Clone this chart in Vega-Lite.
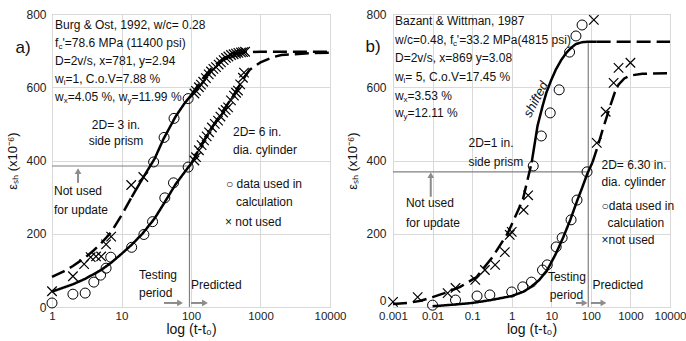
{
  "$schema": "https://vega.github.io/schema/vega-lite/v6.json",
  "padding": {"left": 6, "top": 7, "right": 14, "bottom": 0},
  "background": "white",
  "spacing": 63,
  "bounds": "flush",
  "config": {
    "font": "Liberation Sans",
    "view": {"stroke": "#bfbfbf", "strokeWidth": 1},
    "axis": {"domain": false, "ticks": false, "gridColor": "#d9d9d9", "gridWidth": 1, "labelFont": "Liberation Sans", "labelFontSize": 12, "labelColor": "#222222", "titleFont": "Liberation Sans", "titleFontWeight": "normal", "titleColor": "#111111", "labelOverlap": false},
    "axisY": {"labelPadding": 6, "titlePadding": 6, "titleFontSize": 13},
    "axisX": {"labelPadding": 3, "titlePadding": 1, "titleFontSize": 14, "labelFontSize": 11.5, "labelFlush": false},
    "text": {"font": "Liberation Sans", "fontSize": 12, "color": "#111111", "baseline": "middle"}
  },
  "hconcat": [
    {
      "width": 278,
      "height": 293,
      "encoding": {
        "x": {"field": "x", "type": "quantitative", "scale": {"type": "log", "domain": [1, 10000]}, "axis": {"values": [1, 10, 100, 1000, 10000], "format": "~g", "title": "log (t-t₀)", "grid": true}},
        "y": {"field": "y", "type": "quantitative", "scale": {"domain": [0, 800], "nice": false}, "axis": {"values": [0, 200, 400, 600, 800], "title": "εₛₕ (x10⁻⁶)", "grid": true}}
      },
      "layer": [
        {
          "data": {"values": [
            {"x": 1, "x2": 95, "y": 385, "y2": 385},
            {"x": 95, "x2": 95, "y": 0, "y2": 575}
          ]},
          "mark": {"type": "rule", "color": "#808080", "strokeWidth": 1.2},
          "encoding": {"x2": {"field": "x2"}, "y2": {"field": "y2"}}
        },
        {
          "data": {"values": [
            {"x": 40.9, "x2": 69.5, "y": 11, "y2": 11},
            {"x": 100, "x2": 159, "y": 11, "y2": 11},
            {"x": 2.37, "x2": 2.37, "y": 339, "y2": 371}
          ]},
          "mark": {"type": "rule", "color": "#8c8c8c", "strokeWidth": 2},
          "encoding": {"x2": {"field": "x2"}, "y2": {"field": "y2"}}
        },
        {
          "data": {"values": [
            {"x": 69.5, "y": 11, "dir": "right"},
            {"x": 159, "y": 11, "dir": "right"},
            {"x": 2.37, "y": 371, "dir": "up"}
          ]},
          "mark": {"type": "point", "filled": true, "color": "#8c8c8c", "size": 45, "opacity": 1},
          "encoding": {"shape": {"field": "dir", "type": "nominal", "scale": {"domain": ["right", "up"], "range": ["triangle-right", "triangle-up"]}, "legend": null}}
        },
        {
          "data": {"values": [
            {"seg": "p1", "style": "pred", "x": 1, "y": 82},
            {"seg": "p1", "style": "pred", "x": 1.5, "y": 98},
            {"seg": "p1", "style": "pred", "x": 2, "y": 112},
            {"seg": "p1", "style": "pred", "x": 3, "y": 135},
            {"seg": "p1", "style": "pred", "x": 4, "y": 155},
            {"seg": "p1", "style": "pred", "x": 5, "y": 172},
            {"seg": "p1", "style": "pred", "x": 7, "y": 203},
            {"seg": "p1", "style": "pred", "x": 10, "y": 250},
            {"seg": "p1", "style": "pred", "x": 14, "y": 300},
            {"seg": "p2", "style": "fit", "x": 14, "y": 300},
            {"seg": "p2", "style": "fit", "x": 20, "y": 350},
            {"seg": "p2", "style": "fit", "x": 30, "y": 405},
            {"seg": "p2", "style": "fit", "x": 40, "y": 458},
            {"seg": "p2", "style": "fit", "x": 60, "y": 520},
            {"seg": "p2", "style": "fit", "x": 80, "y": 555},
            {"seg": "p2", "style": "fit", "x": 100, "y": 578},
            {"seg": "p3", "style": "pred", "x": 100, "y": 578},
            {"seg": "p3", "style": "pred", "x": 150, "y": 625},
            {"seg": "p3", "style": "pred", "x": 200, "y": 653},
            {"seg": "p3", "style": "pred", "x": 300, "y": 680},
            {"seg": "p3", "style": "pred", "x": 400, "y": 690},
            {"seg": "p3", "style": "pred", "x": 600, "y": 696},
            {"seg": "p3", "style": "pred", "x": 1000, "y": 697},
            {"seg": "p3", "style": "pred", "x": 10000, "y": 697},
            {"seg": "c1", "style": "fit", "x": 1, "y": 42},
            {"seg": "c1", "style": "fit", "x": 2, "y": 62},
            {"seg": "c1", "style": "fit", "x": 3, "y": 77},
            {"seg": "c1", "style": "fit", "x": 5, "y": 100},
            {"seg": "c1", "style": "fit", "x": 7, "y": 120},
            {"seg": "c1", "style": "fit", "x": 10, "y": 145},
            {"seg": "c1", "style": "fit", "x": 14, "y": 170},
            {"seg": "c1", "style": "fit", "x": 20, "y": 200},
            {"seg": "c1", "style": "fit", "x": 30, "y": 242},
            {"seg": "c1", "style": "fit", "x": 40, "y": 280},
            {"seg": "c1", "style": "fit", "x": 60, "y": 335},
            {"seg": "c1", "style": "fit", "x": 90, "y": 380},
            {"seg": "c1", "style": "fit", "x": 100, "y": 390},
            {"seg": "c2", "style": "pred", "x": 100, "y": 390},
            {"seg": "c2", "style": "pred", "x": 150, "y": 450},
            {"seg": "c2", "style": "pred", "x": 200, "y": 490},
            {"seg": "c2", "style": "pred", "x": 250, "y": 518},
            {"seg": "c2", "style": "pred", "x": 300, "y": 540},
            {"seg": "c2", "style": "pred", "x": 400, "y": 575},
            {"seg": "c2", "style": "pred", "x": 500, "y": 605},
            {"seg": "c2", "style": "pred", "x": 600, "y": 630},
            {"seg": "c2", "style": "pred", "x": 700, "y": 648},
            {"seg": "c2", "style": "pred", "x": 1000, "y": 668},
            {"seg": "c2", "style": "pred", "x": 1500, "y": 682},
            {"seg": "c2", "style": "pred", "x": 2000, "y": 688},
            {"seg": "c2", "style": "pred", "x": 5000, "y": 693},
            {"seg": "c2", "style": "pred", "x": 10000, "y": 694}
          ]},
          "mark": {"type": "line", "color": "black", "strokeWidth": 2.5},
          "encoding": {
            "detail": {"field": "seg", "type": "nominal"},
            "strokeDash": {"field": "style", "type": "nominal", "scale": {"domain": ["fit", "pred"], "range": [[1, 0], [14, 6]]}, "legend": null}
          }
        },
        {
          "data": {"values": [
            {"x": 1, "y": 11}, {"x": 2, "y": 35}, {"x": 3, "y": 38}, {"x": 4, "y": 68}, {"x": 5, "y": 87}, {"x": 6, "y": 106}, {"x": 7, "y": 136},
            {"x": 14, "y": 163}, {"x": 21, "y": 198}, {"x": 28, "y": 233}, {"x": 42, "y": 298}, {"x": 56, "y": 339}, {"x": 91, "y": 382},
            {"x": 29, "y": 396}, {"x": 41, "y": 463}, {"x": 57, "y": 515}, {"x": 91, "y": 569}
          ]},
          "mark": {"type": "point", "shape": "circle", "filled": false, "size": 100, "stroke": "black", "strokeWidth": 1, "opacity": 1}
        },
        {
          "data": {"values": [
            {"x": 1, "y": 43}, {"x": 2, "y": 84}, {"x": 2.9, "y": 117}, {"x": 3.6, "y": 136}, {"x": 4.3, "y": 138}, {"x": 5.1, "y": 138}, {"x": 6, "y": 171}, {"x": 7.1, "y": 192}, {"x": 13.8, "y": 333}, {"x": 20.6, "y": 355},
            {"x": 112, "y": 583}, {"x": 118, "y": 590}, {"x": 130, "y": 600}, {"x": 139, "y": 607}, {"x": 150, "y": 615}, {"x": 164, "y": 625}, {"x": 180, "y": 635}, {"x": 194, "y": 643}, {"x": 210, "y": 650}, {"x": 229, "y": 655}, {"x": 250, "y": 662}, {"x": 270, "y": 668}, {"x": 295, "y": 674}, {"x": 319, "y": 680}, {"x": 345, "y": 684}, {"x": 376, "y": 688}, {"x": 410, "y": 690}, {"x": 444, "y": 692}, {"x": 480, "y": 694}, {"x": 524, "y": 695}, {"x": 560, "y": 696}, {"x": 600, "y": 697},
            {"x": 112, "y": 400}, {"x": 118, "y": 409}, {"x": 130, "y": 428}, {"x": 142, "y": 442}, {"x": 154, "y": 455}, {"x": 168, "y": 466}, {"x": 182, "y": 477}, {"x": 200, "y": 490}, {"x": 220, "y": 500}, {"x": 245, "y": 509}, {"x": 265, "y": 520}, {"x": 289, "y": 531}, {"x": 315, "y": 538}, {"x": 342, "y": 545}, {"x": 376, "y": 564}, {"x": 415, "y": 577}, {"x": 445, "y": 585}, {"x": 474, "y": 591}, {"x": 510, "y": 608}, {"x": 559, "y": 626}, {"x": 579, "y": 640}
          ]},
          "mark": {"type": "point", "shape": "M-1,-1L1,1M-1,1L1,-1", "filled": false, "size": 90, "stroke": "black", "strokeWidth": 1.2, "opacity": 1}
        },
        {
          "data": {"values": [
            {"x": 1.105, "y": 770, "t": "Burg & Ost, 1992, w/c= 0.28"},
            {"x": 1.105, "y": 721, "t": "f"},
            {"x": 1.416, "y": 721, "t": "'=78.6 MPa (11400 psi)"},
            {"x": 1.105, "y": 672, "t": "D=2v/s, x=781, y=2.94"},
            {"x": 1.105, "y": 623, "t": "w"},
            {"x": 1.564, "y": 623, "t": "=1, C.o.V=7.88 %"},
            {"x": 1.105, "y": 574, "t": "w"},
            {"x": 1.682, "y": 574, "t": "=4.05 %, w"},
            {"x": 13.88, "y": 574, "t": "=11.99 %"},
            {"x": 402, "y": 479, "t": "2D= 6 in."},
            {"x": 402, "y": 430, "t": "dia. cylinder"},
            {"x": 319, "y": 335, "t": "○ data used in"},
            {"x": 444, "y": 286, "t": "calculation"},
            {"x": 308, "y": 231, "t": "× not used"},
            {"x": 1.068, "y": 316, "t": "Not used"},
            {"x": 1.068, "y": 264, "t": "for update"},
            {"x": 17.86, "y": 87, "t": "Testing"},
            {"x": 17.86, "y": 38, "t": "period"},
            {"x": 100, "y": 60, "t": "Predicted"}
          ]},
          "mark": {"type": "text", "align": "left"},
          "encoding": {"text": {"field": "t"}}
        },
        {
          "data": {"values": [
            {"x": 1.240, "y": 721, "t": "c"},
            {"x": 1.474, "y": 623, "t": "i"},
            {"x": 1.474, "y": 574, "t": "x"},
            {"x": 12.16, "y": 574, "t": "y"}
          ]},
          "mark": {"type": "text", "align": "left", "fontSize": 8, "dy": 4},
          "encoding": {"text": {"field": "t"}}
        },
        {
          "data": {"values": [
            {"x": 8.34, "y": 498, "t": "2D= 3 in."},
            {"x": 8.34, "y": 452, "t": "side prism"}
          ]},
          "mark": {"type": "text", "align": "center"},
          "encoding": {"text": {"field": "t"}}
        },
        {
          "data": {"values": [{"x": 0.3826, "y": 707, "t": "a)"}]},
          "mark": {"type": "text", "align": "center", "fontSize": 17},
          "encoding": {"text": {"field": "t"}}
        }
      ]
    },
    {
      "width": 277,
      "height": 293,
      "encoding": {
        "x": {"field": "x", "type": "quantitative", "scale": {"type": "log", "domain": [0.001, 10000]}, "axis": {"values": [0.001, 0.01, 0.1, 1, 10, 100, 1000, 10000], "format": "~g", "title": "log (t-t₀)", "grid": true}},
        "y": {"field": "y", "type": "quantitative", "scale": {"domain": [0, 800], "nice": false}, "axis": {"values": [0, 200, 400, 600, 800], "title": "εₛₕ (x10⁻⁶)", "grid": true, "labelPadding": 7, "labelBaseline": {"condition": {"test": "datum.value === 0", "value": "bottom"}, "value": "middle"}}}
      },
      "layer": [
        {
          "data": {"values": [
            {"x": 0.001, "x2": 86, "y": 369, "y2": 369},
            {"x": 86, "x2": 86, "y": 0, "y2": 724}
          ]},
          "mark": {"type": "rule", "color": "#808080", "strokeWidth": 1.2},
          "encoding": {"x2": {"field": "x2"}, "y2": {"field": "y2"}}
        },
        {
          "data": {"values": [
            {"x": 42, "x2": 69.5, "y": 11, "y2": 11},
            {"x": 100, "x2": 208, "y": 11, "y2": 11},
            {"x": 0.009, "x2": 0.009, "y": 301, "y2": 360}
          ]},
          "mark": {"type": "rule", "color": "#8c8c8c", "strokeWidth": 2},
          "encoding": {"x2": {"field": "x2"}, "y2": {"field": "y2"}}
        },
        {
          "data": {"values": [
            {"x": 69.5, "y": 11, "dir": "right"},
            {"x": 208, "y": 11, "dir": "right"},
            {"x": 0.009, "y": 360, "dir": "up"}
          ]},
          "mark": {"type": "point", "filled": true, "color": "#8c8c8c", "size": 45, "opacity": 1},
          "encoding": {"shape": {"field": "dir", "type": "nominal", "scale": {"domain": ["right", "up"], "range": ["triangle-right", "triangle-up"]}, "legend": null}}
        },
        {
          "data": {"values": [
            {"seg": "p1", "style": "pred", "x": 0.001, "y": 8},
            {"seg": "p1", "style": "pred", "x": 0.0024, "y": 11},
            {"seg": "p1", "style": "pred", "x": 0.005, "y": 17},
            {"seg": "p1", "style": "pred", "x": 0.01, "y": 27},
            {"seg": "p1", "style": "pred", "x": 0.02, "y": 38},
            {"seg": "p1", "style": "pred", "x": 0.05, "y": 55},
            {"seg": "p1", "style": "pred", "x": 0.13, "y": 82},
            {"seg": "p1", "style": "pred", "x": 0.33, "y": 137},
            {"seg": "p1", "style": "pred", "x": 0.8, "y": 202},
            {"seg": "p1", "style": "pred", "x": 1.9, "y": 292},
            {"seg": "p1", "style": "pred", "x": 3.2, "y": 395},
            {"seg": "p2", "style": "fit", "x": 3.2, "y": 395},
            {"seg": "p2", "style": "fit", "x": 4.5, "y": 495},
            {"seg": "p2", "style": "fit", "x": 6, "y": 548},
            {"seg": "p2", "style": "fit", "x": 7.5, "y": 585},
            {"seg": "p2", "style": "fit", "x": 10, "y": 620},
            {"seg": "p2", "style": "fit", "x": 13, "y": 648},
            {"seg": "p2", "style": "fit", "x": 18, "y": 675},
            {"seg": "p2", "style": "fit", "x": 24, "y": 694},
            {"seg": "p2", "style": "fit", "x": 32, "y": 708},
            {"seg": "p2", "style": "fit", "x": 42, "y": 718},
            {"seg": "p2", "style": "fit", "x": 60, "y": 723},
            {"seg": "p2", "style": "fit", "x": 80, "y": 724},
            {"seg": "p2", "style": "fit", "x": 140, "y": 724},
            {"seg": "p3", "style": "pred", "x": 140, "y": 724},
            {"seg": "p3", "style": "pred", "x": 10000, "y": 724},
            {"seg": "c1", "style": "fit", "x": 0.01, "y": 2},
            {"seg": "c1", "style": "fit", "x": 0.03, "y": 6},
            {"seg": "c1", "style": "fit", "x": 0.1, "y": 11},
            {"seg": "c1", "style": "fit", "x": 0.3, "y": 19},
            {"seg": "c1", "style": "fit", "x": 1, "y": 30},
            {"seg": "c1", "style": "fit", "x": 2, "y": 42},
            {"seg": "c1", "style": "fit", "x": 3, "y": 54},
            {"seg": "c1", "style": "fit", "x": 5, "y": 74},
            {"seg": "c1", "style": "fit", "x": 8, "y": 102},
            {"seg": "c1", "style": "fit", "x": 13, "y": 145},
            {"seg": "c1", "style": "fit", "x": 20, "y": 190},
            {"seg": "c1", "style": "fit", "x": 30, "y": 237},
            {"seg": "c1", "style": "fit", "x": 45, "y": 290},
            {"seg": "c1", "style": "fit", "x": 60, "y": 325},
            {"seg": "c1", "style": "fit", "x": 80, "y": 362},
            {"seg": "c1", "style": "fit", "x": 110, "y": 395},
            {"seg": "c2", "style": "pred", "x": 110, "y": 395},
            {"seg": "c2", "style": "pred", "x": 150, "y": 440},
            {"seg": "c2", "style": "pred", "x": 200, "y": 485},
            {"seg": "c2", "style": "pred", "x": 300, "y": 545},
            {"seg": "c2", "style": "pred", "x": 400, "y": 585},
            {"seg": "c2", "style": "pred", "x": 500, "y": 607},
            {"seg": "c2", "style": "pred", "x": 700, "y": 624},
            {"seg": "c2", "style": "pred", "x": 1000, "y": 632},
            {"seg": "c2", "style": "pred", "x": 2000, "y": 637},
            {"seg": "c2", "style": "pred", "x": 10000, "y": 638}
          ]},
          "mark": {"type": "line", "color": "black", "strokeWidth": 2.5},
          "encoding": {
            "detail": {"field": "seg", "type": "nominal"},
            "strokeDash": {"field": "style", "type": "nominal", "scale": {"domain": ["fit", "pred"], "range": [[1, 0], [14, 6]]}, "legend": null}
          }
        },
        {
          "data": {"values": [
            {"x": 3.5, "y": 385}, {"x": 5.6, "y": 467}, {"x": 9.4, "y": 530}, {"x": 15.8, "y": 593}, {"x": 29, "y": 696}, {"x": 42, "y": 740}, {"x": 60, "y": 770},
            {"x": 0.01, "y": 5}, {"x": 0.038, "y": 19}, {"x": 0.133, "y": 30}, {"x": 0.28, "y": 33}, {"x": 1.0, "y": 41}, {"x": 1.9, "y": 55}, {"x": 3.16, "y": 68}, {"x": 6, "y": 101}, {"x": 7.9, "y": 115}, {"x": 13.3, "y": 164}, {"x": 18.8, "y": 189}, {"x": 31.6, "y": 238}, {"x": 44.7, "y": 292}, {"x": 80, "y": 369}
          ]},
          "mark": {"type": "point", "shape": "circle", "filled": false, "size": 100, "stroke": "black", "strokeWidth": 1, "opacity": 1}
        },
        {
          "data": {"values": [
            {"x": 0.001, "y": 14}, {"x": 0.0042, "y": 27}, {"x": 0.024, "y": 38}, {"x": 0.038, "y": 52}, {"x": 0.12, "y": 74}, {"x": 0.21, "y": 101}, {"x": 0.38, "y": 115}, {"x": 0.67, "y": 150}, {"x": 0.89, "y": 197}, {"x": 1.0, "y": 205}, {"x": 2.0, "y": 265}, {"x": 2.6, "y": 305}, {"x": 119, "y": 784},
            {"x": 141, "y": 448}, {"x": 237, "y": 533}, {"x": 376, "y": 612}, {"x": 501, "y": 653}, {"x": 1000, "y": 667}
          ]},
          "mark": {"type": "point", "shape": "M-1,-1L1,1M-1,1L1,-1", "filled": false, "size": 90, "stroke": "black", "strokeWidth": 1.2, "opacity": 1}
        },
        {
          "data": {"values": [
            {"x": 0.001122, "y": 781, "t": "Bazant & Wittman, 1987"},
            {"x": 0.001122, "y": 729, "t": "w/c=0.48, f"},
            {"x": 0.04112, "y": 729, "t": "'=33.2 MPa(4815 psi)"},
            {"x": 0.001122, "y": 679, "t": "D=2v/s, x=869 y=3.08"},
            {"x": 0.001122, "y": 627, "t": "w"},
            {"x": 0.002052, "y": 627, "t": "= 5, C.o.V=17.45 %"},
            {"x": 0.001122, "y": 575, "t": "w"},
            {"x": 0.002333, "y": 575, "t": "=3.53 %"},
            {"x": 0.001122, "y": 529, "t": "w"},
            {"x": 0.002333, "y": 529, "t": "=12.11 %"},
            {"x": 0.0807, "y": 449, "t": "2D=1 in."},
            {"x": 0.0807, "y": 397, "t": "side prism"},
            {"x": 185.6, "y": 389, "t": "2D= 6.30 in."},
            {"x": 185.6, "y": 342, "t": "dia. cylinder"},
            {"x": 185.6, "y": 277, "t": "○data used in"},
            {"x": 262, "y": 230, "t": "calculation"},
            {"x": 185.6, "y": 184, "t": "×not used"},
            {"x": 0.00212, "y": 285, "t": "Not used"},
            {"x": 0.00212, "y": 230, "t": "for update"},
            {"x": 8.2, "y": 82, "t": "Testing"},
            {"x": 9.2, "y": 33, "t": "period"},
            {"x": 110, "y": 60, "t": "Predicted"}
          ]},
          "mark": {"type": "text", "align": "left"},
          "encoding": {"text": {"field": "t"}}
        },
        {
          "data": {"values": [
            {"x": 0.03263, "y": 729, "t": "c"},
            {"x": 0.001852, "y": 627, "t": "i"},
            {"x": 0.001852, "y": 575, "t": "x"},
            {"x": 0.001852, "y": 529, "t": "y"}
          ]},
          "mark": {"type": "text", "align": "left", "fontSize": 8, "dy": 4},
          "encoding": {"text": {"field": "t"}}
        },
        {
          "data": {"values": [{"x": 4.1, "y": 567, "t": "shifted"}]},
          "mark": {"type": "text", "align": "center", "fontStyle": "italic", "angle": 298, "fontSize": 13},
          "encoding": {"text": {"field": "t"}}
        },
        {
          "data": {"values": [{"x": 0.000315, "y": 710, "t": "b)"}]},
          "mark": {"type": "text", "align": "center", "fontSize": 17},
          "encoding": {"text": {"field": "t"}}
        }
      ]
    }
  ]
}
